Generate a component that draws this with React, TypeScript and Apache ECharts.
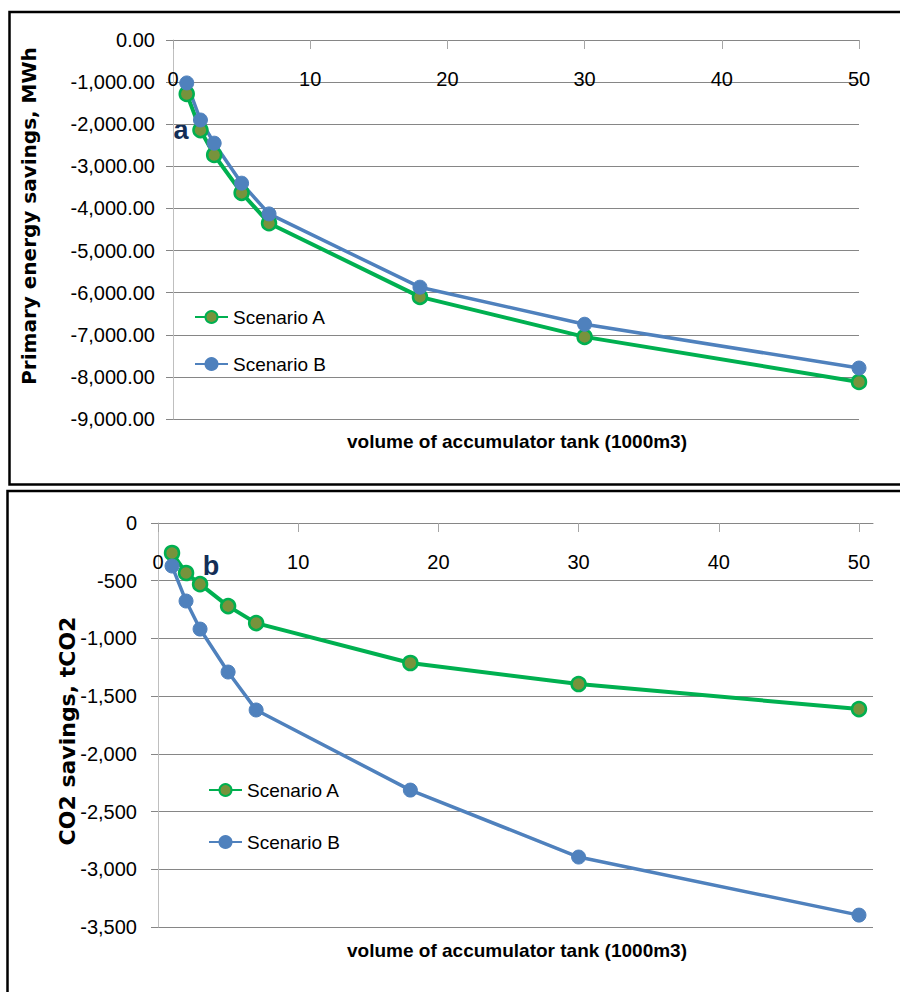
import React, { useEffect, useRef } from 'react';
import * as echarts from 'echarts';

const xVals = [1, 2, 3, 5, 7, 18, 30, 50];
const energyA = [-1280, -2140, -2730, -3630, -4350, -6100, -7050, -8120];
const energyB = [-1020, -1900, -2450, -3400, -4130, -5870, -6750, -7790];
const co2A = [-260, -433, -530, -720, -867, -1213, -1395, -1612];
const co2B = [-373, -676, -919, -1291, -1620, -2314, -2894, -3397];
const xTicks = [0, 10, 20, 30, 40, 50];
const seriesNames = ['Scenario A', 'Scenario B'];
const yTitleTop = 'Primary energy savings, MWh';
const yTitleBottom = 'CO2 savings, tCO2';
const xTitle = 'volume of accumulator tank (1000m3)';

const GREEN = '#00B050';
const OLIVE = '#77933C';
const BLUE = '#4F81BD';
const FONT = '"Liberation Sans", Arial, sans-serif';

const pairs = (ys: number[]) => xVals.map((x, i) => [x, ys[i]]);

function lineSeries(name: string, data: number[][], idx: number, green: boolean) {
  return {
    name,
    type: 'line',
    xAxisIndex: idx,
    yAxisIndex: idx,
    data,
    symbol: 'circle',
    symbolSize: 14,
    lineStyle: { color: green ? GREEN : BLUE, width: green ? 4 : 3.5 },
    itemStyle: green
      ? { color: OLIVE, borderColor: GREEN, borderWidth: 2.5 }
      : { color: BLUE, borderColor: BLUE, borderWidth: 1 },
    emphasis: { disabled: true },
  };
}

function xAxisCfg(idx: number, max: number) {
  return {
    gridIndex: idx,
    type: 'value',
    position: 'top',
    min: 0,
    max,
    interval: 10,
    axisLine: { show: true, onZero: false, lineStyle: { color: '#868686', width: 1 } },
    axisTick: { show: true, inside: true, length: 9, customValues: xTicks, lineStyle: { color: '#A6A6A6' } },
    axisLabel: { inside: true, margin: 29, fontSize: 20, color: '#000', fontFamily: FONT, customValues: xTicks },
    splitLine: { show: false },
  };
}

function yAxisCfg(idx: number, min: number, interval: number, margin: number, fmt: (v: number) => string) {
  return {
    gridIndex: idx,
    type: 'value',
    min,
    max: 0,
    interval,
    axisLine: { show: true, onZero: false, lineStyle: { color: '#BFBFBF', width: 1 } },
    axisTick: { show: true, length: 7, lineStyle: { color: '#868686' } },
    axisLabel: { margin, fontSize: 20, color: '#000', fontFamily: FONT, formatter: fmt },
    splitLine: { show: true, lineStyle: { color: '#868686', width: 1 } },
  };
}

function legendCfg(name: string, left: number, top: number) {
  return {
    data: [{ name }],
    orient: 'vertical',
    left,
    top,
    padding: 0,
    itemWidth: 33,
    itemHeight: 15,
    itemGap: 0,
    selectedMode: false,
    textStyle: { fontSize: 19, color: '#000', fontFamily: FONT, lineHeight: 20 },
  };
}

function textEl(text: string, x: number, y: number, font: string, rotation = 0, fill = '#000') {
  return {
    type: 'text',
    x,
    y,
    rotation,
    silent: true,
    style: {
      text,
      font,
      fill,
      align: 'center',
      verticalAlign: 'middle',
      textAlign: 'center',
      textVerticalAlign: 'middle',
    },
  };
}

export default function App() {
  const ref = useRef<HTMLDivElement>(null);
  useEffect(() => {
    const chart = echarts.init(ref.current!, null, { renderer: 'svg' });
    const option = {
      animation: false,
      backgroundColor: '#ffffff',
      grid: [
        { left: 173, top: 40, width: 686, height: 379 },
        { left: 158, top: 523, width: 715, height: 404 },
      ],
      xAxis: [xAxisCfg(0, 50), xAxisCfg(1, 51)],
      yAxis: [
        yAxisCfg(0, -9000, 1000, 18, (v: number) =>
          v.toLocaleString('en-US', { minimumFractionDigits: 2, maximumFractionDigits: 2 })
        ),
        yAxisCfg(1, -3500, 500, 21, (v: number) => v.toLocaleString('en-US')),
      ],
      legend: [
        legendCfg(seriesNames[0], 194, 307),
        legendCfg(seriesNames[1], 194, 354),
        legendCfg(seriesNames[0], 208, 780),
        legendCfg(seriesNames[1], 208, 832),
      ],
      series: [
        lineSeries(seriesNames[0], pairs(energyA), 0, true),
        lineSeries(seriesNames[1], pairs(energyB), 0, false),
        lineSeries(seriesNames[0], pairs(co2A), 1, true),
        lineSeries(seriesNames[1], pairs(co2B), 1, false),
      ],
      graphic: [
        {
          type: 'rect',
          silent: true,
          shape: { x: 9.5, y: 12, width: 1000, height: 472.5 },
          style: { fill: 'none', stroke: '#000', lineWidth: 2.5 },
        },
        {
          type: 'rect',
          silent: true,
          shape: { x: 7.5, y: 491, width: 1000, height: 600 },
          style: { fill: 'none', stroke: '#000', lineWidth: 2.5 },
        },
        textEl(yTitleTop, 29, 216, 'bold 20px "DejaVu Sans", Verdana, sans-serif', Math.PI / 2),
        textEl(yTitleBottom, 67, 731, 'bold 22px "DejaVu Sans", Verdana, sans-serif', Math.PI / 2),
        textEl(xTitle, 517, 441, 'bold 19px ' + FONT),
        textEl(xTitle, 517, 950, 'bold 19px ' + FONT),
        textEl('a', 181, 130, 'bold 27px ' + FONT, 0, '#132E57'),
        textEl('b', 211, 566, 'bold 27px ' + FONT, 0, '#132E57'),
      ],
    };
    chart.setOption(option as any);
    return () => chart.dispose();
  }, []);
  return (
    <div
      ref={ref}
      style={{ position: 'absolute', left: 0, top: 0, width: 900, height: 992, background: '#fff' }}
    />
  );
}
